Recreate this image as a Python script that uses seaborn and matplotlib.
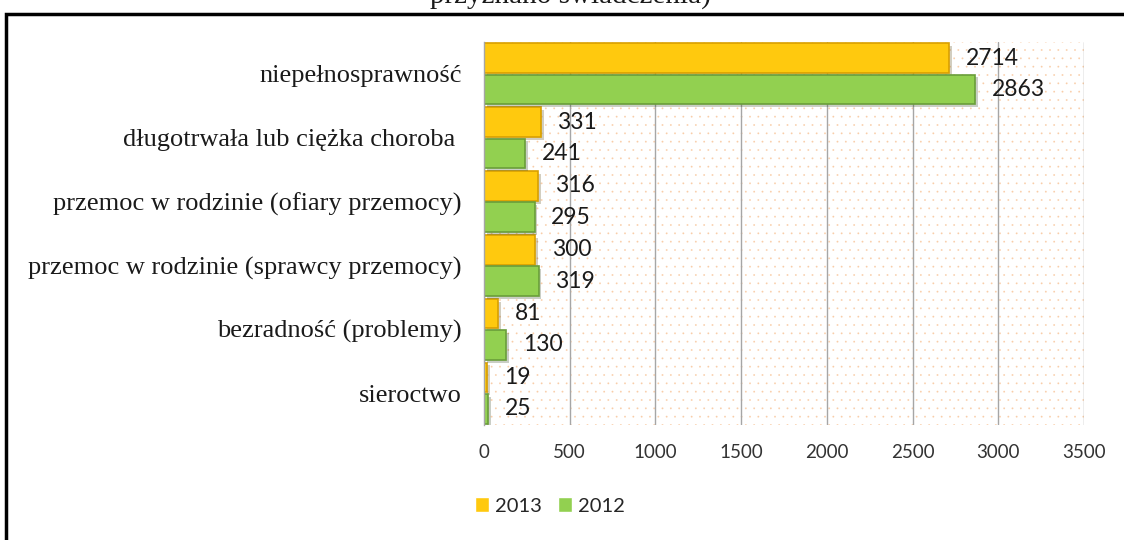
import matplotlib
matplotlib.use("Agg")
import matplotlib.pyplot as plt
import matplotlib.patheffects as pe
from matplotlib.patches import Rectangle
import pandas as pd
import seaborn as sns

categories = [
    "niepełnosprawność",
    "długotrwała lub ciężka choroba ",
    "przemoc w rodzinie (ofiary przemocy)",
    "przemoc w rodzinie (sprawcy przemocy)",
    "bezradność (problemy)",
    "sieroctwo",
]
values_2013 = [2714, 331, 316, 300, 81, 19]
values_2012 = [2863, 241, 295, 319, 130, 25]
years = ["2013", "2012"]
xticks = [0, 500, 1000, 1500, 2000, 2500, 3000, 3500]

df = pd.DataFrame({
    "kategoria": categories * 2,
    "wartosc": values_2013 + values_2012,
    "rok": ["2013"] * len(categories) + ["2012"] * len(categories),
})

sns.set_theme(style="white")
plt.rcParams["font.family"] = ["Lato", "DejaVu Sans"]
plt.rcParams["hatch.linewidth"] = 0.1

fig = plt.figure(figsize=(11.24, 5.4), dpi=100)
ax = fig.add_axes([0.4306, 0.2130, 0.5338, 0.7092])

# dotted background of the plot area
ax.patch.set_facecolor("white")
ax.patch.set_hatch("..")
ax.patch.set_edgecolor("#F9CDA8")
ax.patch.set_linewidth(0)

palette = {"2013": "#FFC90E", "2012": "#92D050"}
sns.barplot(data=df, y="kategoria", x="wartosc", hue="rok", hue_order=years,
            palette=palette, orient="h", width=0.98, gap=0.05,
            saturation=1, ax=ax)

edge = {"2013": "#D9A000", "2012": "#6A9E3A"}
for cont, yr in zip(ax.containers, years):
    for bar in cont:
        bar.set_edgecolor(edge[yr])
        bar.set_linewidth(1.2)
        bar.set_path_effects([pe.SimplePatchShadow(offset=(2, -2), alpha=0.25),
                              pe.Normal()])
    ax.bar_label(cont, fmt="%d", padding=12, fontsize=16.5, color="#1a1a1a")

ax.set_xlim(0, 3500)
ax.set_xticks(xticks)
ax.set_xlabel("")
ax.set_ylabel("")
ax.tick_params(axis="x", length=0, pad=14, labelsize=13.5, labelcolor="#333333")
ax.tick_params(axis="y", length=0, pad=16)
for lab in ax.get_yticklabels():
    lab.set_family("Liberation Serif")
    lab.set_fontsize(19)
    lab.set_color("#1a1a1a")

ax.set_axisbelow(True)
ax.grid(axis="x", color="#A6A6A6", linewidth=1)
ax.grid(axis="y", visible=False)
for side in ["top", "right", "bottom"]:
    ax.spines[side].set_visible(False)
ax.spines["left"].set_color("#A6A6A6")
ax.spines["left"].set_linewidth(1)

handles, labels = ax.get_legend_handles_labels()
ax.get_legend().remove()
fig.legend(handles, labels, loc="center", bbox_to_anchor=(0.489, 0.063),
           ncol=2, frameon=False, fontsize=14.5, handlelength=0.7,
           handleheight=0.7, handletextpad=0.3, columnspacing=0.8)

# outer frame of the chart
fig.patches.append(Rectangle((6 / 1124, -0.1), 1.2, 0.1 + 1 - 14 / 540,
                             transform=fig.transFigure, fill=False,
                             edgecolor="black", linewidth=2.5))

fig.text(570 / 1124, 1 - 3 / 540, "przyznano świadczenia)", ha="center",
         va="baseline", fontsize=21, family="Liberation Serif", color="#1a1a1a")

fig.savefig("out.png", dpi=100)
